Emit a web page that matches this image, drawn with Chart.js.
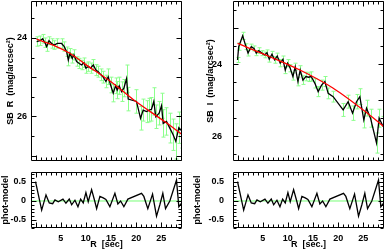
<!DOCTYPE html>
<html>
<head>
<meta charset="utf-8">
<script src="https://cdn.jsdelivr.net/npm/chart.js@4.4.1/dist/chart.umd.min.js"></script>
<style>
body { margin: 0; background: #fff; width: 384px; height: 250px; overflow: hidden; position: relative; }
.p { position: absolute; }
</style>
</head>
<body>
<div class="p" style="left:0;top:0;width:184px;height:162px"><canvas id="sbR"></canvas></div>
<div class="p" style="left:200px;top:0;width:184px;height:162px"><canvas id="sbI"></canvas></div>
<div class="p" style="left:0;top:168px;width:184px;height:82px"><canvas id="resR"></canvas></div>
<div class="p" style="left:192px;top:168px;width:192px;height:82px"><canvas id="resI"></canvas></div>
<script>
// R band profile (radius in arcsec, surface brightness, error)
var rX = [0.22, 0.89, 1.42, 1.88, 2.21, 2.67, 3.20, 3.73, 4.32, 5.18, 5.71, 6.18, 6.51, 6.84, 7.30, 7.63, 8.16, 8.69, 9.15, 9.62,
  10.01, 10.48, 10.94, 11.47, 12.00, 12.46, 12.99, 13.45, 13.98, 14.44, 14.91, 15.44, 15.90, 16.23, 16.63, 17.09, 17.55, 18.08, 18.41, 20.06,
  20.86, 21.39, 22.05, 22.58, 23.04, 23.50, 23.90, 24.56, 25.03, 25.36, 26.02, 26.68, 27.34, 27.87, 28.47, 29.19];
var rSB = [24.09, 24.07, 24.02, 24.12, 24.22, 24.07, 24.14, 24.18, 24.14, 24.14, 24.22, 24.35, 24.56, 24.39, 24.52, 24.43, 24.60, 24.65, 24.69, 24.63,
  24.77, 24.73, 24.77, 24.69, 24.82, 24.86, 24.94, 25.00, 25.11, 24.99, 25.20, 25.41, 25.22, 25.33, 25.22, 25.37, 25.28, 25.04, 25.56, 25.62,
  26.05, 25.84, 25.88, 25.84, 25.82, 25.62, 26.01, 25.92, 25.73, 26.18, 26.13, 26.30, 26.47, 26.64, 26.29, 26.39];
var rErr = [0.12, 0.12, 0.11, 0.12, 0.12, 0.1, 0.12, 0.11, 0.12, 0.12, 0.12, 0.12,
  0.15, 0.12, 0.12, 0.13, 0.12, 0.13, 0.12, 0.12, 0.13, 0.12, 0.13, 0.14, 0.14, 0.14, 0.15, 0.15, 0.16,
  0.2, 0.2, 0.22, 0.2, 0.22, 0.22, 0.25, 0.22,
  0.35, 0.3,
  0.3, 0.3, 0.28, 0.28, 0.3, 0.3, 0.35, 0.3, 0.3, 0.32, 0.35,
  0.35, 0.38, 0.4, 0.45, 0.4, 0.42];
var rModelX = [0.2, 3.5, 6.8, 10.0, 14.8, 19.4, 25.7, 29.2];
var rModelSB = [24.03, 24.18, 24.39, 24.68, 25.10, 25.57, 26.14, 26.47];

// I band profile
var iX = [0.0, 0.23, 1.02, 1.68, 2.08, 2.73, 3.27, 3.72, 4.20, 4.85, 5.39, 5.85, 6.30, 6.84, 7.37, 7.89, 8.48, 9.02, 9.48, 9.95,
  10.47, 11.00, 11.46, 12.00, 12.45, 12.99, 13.58, 14.12, 14.64, 15.37, 16.02, 16.70, 17.35, 18.01, 19.00, 20.98, 21.98, 22.85, 23.64, 24.30,
  25.09, 25.63, 26.42, 27.61, 28.13, 28.92];
var iSB = [23.88, 23.51, 23.21, 23.51, 23.69, 23.51, 23.56, 23.69, 23.62, 23.69, 23.74, 23.68, 23.86, 23.72, 23.88, 23.77, 23.97, 23.86, 24.16, 23.97,
  24.11, 24.34, 24.07, 24.48, 24.16, 24.44, 24.34, 24.36, 24.34, 24.53, 24.76, 24.58, 24.48, 24.81, 24.90, 25.27, 25.04, 25.36, 25.04, 24.90,
  25.55, 25.22, 25.50, 26.19, 25.50, 25.73];
var iErr = [0.07, 0.1, 0.1, 0.08, 0.08, 0.07, 0.07, 0.07, 0.08, 0.07, 0.08, 0.08, 0.08, 0.08, 0.09, 0.08, 0.1, 0.09, 0.1, 0.1,
  0.1, 0.1, 0.1, 0.12, 0.12, 0.12, 0.12, 0.12, 0.13, 0.13, 0.14, 0.14, 0.14, 0.15, 0.15, 0.18, 0.18, 0.2, 0.2, 0.22,
  0.22, 0.22, 0.25, 0.28, 0.25, 0.28];
var iModelX = [0.0, 6.44, 12.39, 18.94, 25.69, 29.0];
var iModelSB = [23.42, 23.79, 24.16, 24.66, 25.35, 25.73];

// phot - model residuals
var resX = [0.0, 1.22, 2.08, 2.73, 3.41, 3.86, 4.52, 5.45, 6.04, 6.70, 7.18, 7.83, 8.43, 8.96, 9.48, 10.01, 10.47, 11.14, 11.80, 12.14,
  12.79, 13.45, 13.98, 14.77, 15.77, 16.36, 16.90, 17.55, 18.35, 21.06, 21.52, 22.31, 23.25, 24.04, 24.70, 25.29, 25.83, 26.68, 28.01, 28.47, 29.06];
var resVal = [0.51, -0.24, 0.16, -0.05, -0.07, 0.03, -0.02, 0.05, -0.06, 0.05, -0.10, 0.02, -0.15, 0.05, -0.05, 0.22, -0.02, 0.30, -0.02, -0.20,
  0.12, 0.08, 0.04, -0.15, 0.20, -0.08, 0.0, -0.15, 0.05, 0.20, 0.12, -0.20, 0.18, -0.40, -0.10, 0.20, -0.20, 0.0, 0.55, -0.15, -0.05];

var xTicks = [5, 10, 15, 20, 25];
var sbTicks = [24, 26];
var resTicks = [-0.5, 0, 0.5];
var xMin = -0.9, xMax = 29.1;

Chart.defaults.font.family = '"Liberation Sans", Arial, sans-serif';
Chart.defaults.font.size = 9;
Chart.defaults.font.weight = 'bold';
Chart.defaults.color = '#000';

function pts(xs, ys) {
  return xs.map(function (x, i) { return { x: x, y: ys[i] }; });
}

// green error bars, drawn under the lines
var errBars = {
  id: 'errBars',
  beforeDatasetsDraw: function (chart) {
    var c = chart.ctx, a = chart.chartArea, sx = chart.scales.x, sy = chart.scales.y;
    c.save();
    c.beginPath();
    c.rect(a.left, a.top, a.right - a.left, a.bottom - a.top);
    c.clip();
    c.strokeStyle = 'rgb(140,255,140)';
    c.lineWidth = 1;
    chart.data.datasets.forEach(function (ds) {
      if (!ds.err) return;
      c.beginPath();
      ds.data.forEach(function (p, i) {
        var x = Math.round(sx.getPixelForValue(p.x)) + 0.5;
        var y1 = sy.getPixelForValue(p.y - ds.err[i]);
        var y2 = sy.getPixelForValue(p.y + ds.err[i]);
        c.moveTo(x, y1); c.lineTo(x, y2);
        c.moveTo(x - 2, y1); c.lineTo(x + 2, y1);
        c.moveTo(x - 2, y2); c.lineTo(x + 2, y2);
      });
      c.stroke();
    });
    c.restore();
  }
};

function marks(scale, step, major, draw) {
  var n0 = Math.ceil(scale.min / step - 1e-6), n1 = Math.floor(scale.max / step + 1e-6);
  var every = Math.round(major / step);
  for (var n = n0; n <= n1; n++) {
    draw(scale.getPixelForValue(n * step), n % every === 0 ? 5 : 3);
  }
}

// box round the plot with inward ticks on all four sides
var frame = {
  id: 'frame',
  afterDraw: function (chart) {
    var o = chart.options.plugins.frame;
    var a = chart.chartArea, c = chart.ctx;
    var l = Math.round(a.left) + 0.5, r = Math.round(a.right) - 0.5;
    var t = Math.round(a.top) + 0.5, b = Math.round(a.bottom) - 0.5;
    c.save();
    c.strokeStyle = '#000';
    c.lineWidth = 1;
    c.beginPath();
    c.rect(l, t, r - l, b - t);
    marks(chart.scales.x, o.xStep, o.xMajor, function (p, len) {
      p = Math.round(p) + 0.5;
      c.moveTo(p, t); c.lineTo(p, t + len);
      c.moveTo(p, b); c.lineTo(p, b - len);
    });
    marks(chart.scales.y, o.yStep, o.yMajor, function (p, len) {
      p = Math.round(p) + 0.5;
      c.moveTo(l, p); c.lineTo(l + len, p);
      c.moveTo(r, p); c.lineTo(r - len, p);
    });
    c.stroke();
    c.restore();
  }
};

function panel(id, o) {
  var x = {
    type: 'linear', min: xMin, max: xMax, display: !!o.xTitle,
    grid: { display: false, drawTicks: false }, border: { display: false },
    afterBuildTicks: function (s) { s.ticks = xTicks.map(function (v) { return { value: v }; }); },
    afterFit: function (s) {
      s.height = o.xTitle ? 22 : 0;
      s.paddingLeft = 0; s.paddingRight = 0;
    },
    ticks: { padding: 5, maxRotation: 0, autoSkip: false, callback: function (v) { return v; } },
    title: { display: !!o.xTitle, text: o.xTitle, padding: 0 }
  };
  var y = {
    type: 'linear', min: o.yMin, max: o.yMax, reverse: o.reverse,
    grid: { display: false, drawTicks: false }, border: { display: false },
    afterBuildTicks: function (s) { s.ticks = o.yTicks.map(function (v) { return { value: v }; }); },
    afterFit: function (s) {
      s.width = o.yWidth;
      s.paddingTop = 0; s.paddingBottom = 0;
    },
    ticks: { padding: o.labelPad, autoSkip: false, callback: function (v) { return String(v); } },
    title: { display: true, text: o.yTitle, padding: { top: o.titlePad, bottom: 0 } }
  };
  return new Chart(document.getElementById(id), {
    type: 'line',
    data: { datasets: o.sets },
    plugins: [errBars, frame],
    options: {
      responsive: true,
      maintainAspectRatio: false,
      animation: false,
      layout: { padding: o.pad },
      elements: { point: { radius: 0 }, line: { borderWidth: 1.3, tension: 0 } },
      plugins: { legend: { display: false }, tooltip: { enabled: false }, frame: o.frame },
      scales: { x: x, y: y }
    }
  });
}

function profile(xs, ys, err, mx, my) {
  return [
    { data: pts(mx, my), borderColor: '#ff0000', borderWidth: 1.3, cubicInterpolationMode: 'monotone', order: 0 },
    { data: pts(xs, ys), err: err, borderColor: '#000', order: 1 }
  ];
}

function residual() {
  return [
    { data: pts(resX, resVal), borderColor: '#000', order: 0 },
    { data: pts([xMin, xMax], [0, 0]), borderColor: 'rgb(120,255,120)', borderWidth: 1, order: 1 }
  ];
}

panel('sbR', {
  sets: profile(rX, rSB, rErr, rModelX, rModelSB),
  yMin: 23.056, yMax: 27.14, reverse: true, yTicks: sbTicks,
  yTitle: 'SB  R  (mag/arcsec\u00b2)', yWidth: 31, labelPad: 4, titlePad: 5,
  pad: { left: 0, right: 2, top: 1, bottom: 1 },
  frame: { xStep: 1, xMajor: 5, yStep: 0.5, yMajor: 1 }
});
panel('sbI', {
  sets: profile(iX, iSB, iErr, iModelX, iModelSB),
  yMin: 22.24, yMax: 26.69, reverse: true, yTicks: sbTicks,
  yTitle: 'SB  I  (mag/arcsec\u00b2)', yWidth: 33, labelPad: 11, titlePad: 5,
  pad: { left: 0, right: 0, top: 1, bottom: 1 },
  frame: { xStep: 1, xMajor: 5, yStep: 0.5, yMajor: 1 }
});
panel('resR', {
  sets: residual(),
  yMin: -0.711, yMax: 0.763, reverse: false, yTicks: resTicks,
  yTitle: 'phot-model', yWidth: 31, labelPad: 5, titlePad: 0,
  xTitle: 'R  [sec]',
  pad: { left: 0, right: 2, top: 4, bottom: 0 },
  frame: { xStep: 1, xMajor: 5, yStep: 0.1, yMajor: 0.5 }
});
panel('resI', {
  sets: residual(),
  yMin: -0.711, yMax: 0.763, reverse: false, yTicks: resTicks,
  yTitle: 'phot-model', yWidth: 41, labelPad: 9, titlePad: 0,
  xTitle: 'R  [sec.]',
  pad: { left: 0, right: 0, top: 4, bottom: 0 },
  frame: { xStep: 1, xMajor: 5, yStep: 0.1, yMajor: 0.5 }
});
</script>
</body>
</html>
